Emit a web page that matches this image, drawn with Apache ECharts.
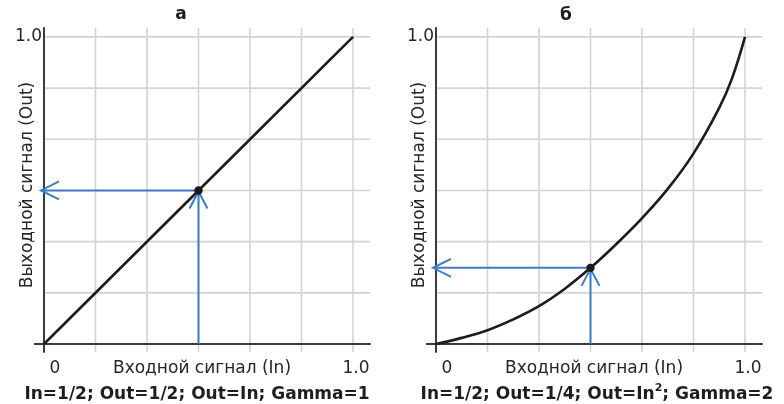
<!DOCTYPE html>
<html><head><meta charset="utf-8">
<script src="https://cdn.jsdelivr.net/npm/echarts@6/dist/echarts.min.js"></script>
<style>html,body{margin:0;padding:0;background:#fff}#c{width:784px;height:404px}</style>
</head><body><div id="c"></div>
<script>
// ---- data ----
const panelTitles = ['а', 'б'];
const captionParts = [
  ['In=1/2; Out=1/2; Out=In; Gamma=1', '', ''],
  ['In=1/2; Out=1/4; Out=In', '2', '; Gamma=2']
];
const xAxisName = 'Входной сигнал (In)';
const yAxisName = 'Выходной сигнал (Out)';
const gridTicks = [0, 1/6, 2/6, 3/6, 4/6, 5/6, 1];
const xTickValues = [0, 1];
const xTickLabels = ['0', '1.0'];
const yTickValues = [1];
const yTickLabels = ['1.0'];
const linearIn  = [0, 0.5, 1];
const linearOut = [0, 0.5, 1];
const gammaIn  = [0, 0.083, 0.167, 0.25, 0.333, 0.417, 0.5, 0.583, 0.667, 0.75, 0.833, 0.917, 0.958, 1.0];
const gammaOut = [0, 0.02, 0.045, 0.08, 0.123, 0.18, 0.248, 0.325, 0.41, 0.505, 0.62, 0.77, 0.865, 1.0];
const markerA = [0.5, 0.5];
const markerB = [0.5, 0.248];

// ---- layout / style ----
const X_MIN = 0, X_MAX = 1.055, Y_MIN = -0.026, Y_MAX = 1.029;
const FONT = 'DejaVu Sans';
const AXIS_COLOR = '#3a3a3a';
const GRID_COLOR = '#d3d3d3';
const BLUE = '#3f7cc4';
const TEXT_COLOR = '#262626';
const grids = [
  {left: 44, top: 28, width: 326, height: 324, containLabel: false, outerBoundsMode: 'none'},
  {left: 436, top: 28, width: 326, height: 324, containLabel: false, outerBoundsMode: 'none'}
];

const chart = echarts.init(document.getElementById('c'), null, {renderer: 'canvas'});

function xLabel(v) {
  const i = xTickValues.findIndex(t => Math.abs(t - v) < 1e-9);
  if (i < 0) return '';
  return (i === 0 ? '{z|' : '{o|') + xTickLabels[i] + '}';
}
function yLabel(v) {
  const i = yTickValues.findIndex(t => Math.abs(t - v) < 1e-9);
  return i < 0 ? '' : yTickLabels[i];
}

function renderGrid(params, api) {
  const v = api.value(0);
  const t = api.coord([v, Y_MAX]), b = api.coord([v, Y_MIN]);
  const l = api.coord([X_MIN, v]), r = api.coord([X_MAX, v]);
  const st = {stroke: GRID_COLOR, lineWidth: 1.6};
  return {type: 'group', children: [
    {type: 'line', shape: {x1: t[0], y1: t[1], x2: b[0], y2: b[1]}, style: st},
    {type: 'line', shape: {x1: l[0], y1: l[1], x2: r[0], y2: r[1]}, style: st}
  ]};
}

function renderArrows(params, api) {
  const x = api.value(0), y = api.value(1);
  const p = api.coord([x, y]);
  const base = api.coord([x, 0]);
  const tip = api.coord([0, y]);
  const st = {stroke: BLUE, lineWidth: 2, fill: null};
  return {type: 'group', children: [
    {type: 'line', shape: {x1: base[0], y1: base[1], x2: p[0], y2: p[1] + 1}, style: st},
    {type: 'polyline', shape: {points: [[p[0] - 9, p[1] + 18], [p[0], p[1] + 1], [p[0] + 9, p[1] + 18]]}, style: st},
    {type: 'line', shape: {x1: p[0], y1: p[1], x2: tip[0] - 3, y2: p[1]}, style: st},
    {type: 'polyline', shape: {points: [[tip[0] + 15, p[1] - 9], [tip[0] - 3, p[1]], [tip[0] + 15, p[1] + 9]]}, style: st},
    {type: 'circle', shape: {cx: p[0], cy: p[1], r: 4.2}, style: {fill: '#1a1a1a'}, z2: 10}
  ]};
}

const xAxes = [], yAxes = [], series = [];
const curves = [[linearIn, linearOut, 0], [gammaIn, gammaOut, 0.4]];
const markers = [markerA, markerB];
grids.forEach((g, i) => {
  xAxes.push({
    type: 'value', gridIndex: i, min: X_MIN, max: X_MAX, z: 3,
    axisLine: {onZero: true, lineStyle: {color: AXIS_COLOR, width: 2}},
    axisTick: {show: false},
    splitLine: {show: false},
    axisLabel: {
      customValues: xTickValues, formatter: xLabel, margin: 8,
      fontFamily: FONT, fontSize: 17, color: TEXT_COLOR,
      rich: {
        z: {fontFamily: FONT, fontSize: 17, color: TEXT_COLOR, padding: [0, 0, 0, 22]},
        o: {fontFamily: FONT, fontSize: 17, color: TEXT_COLOR, padding: [0, 0, 0, 6]}
      }
    },
    name: xAxisName, nameLocation: 'middle', nameGap: 8, nameMoveOverlap: false,
    nameTextStyle: {fontFamily: FONT, fontSize: 17, color: TEXT_COLOR, padding: [0, 10, 0, 0]}
  });
  yAxes.push({
    type: 'value', gridIndex: i, min: Y_MIN, max: Y_MAX, z: 3,
    axisLine: {onZero: true, lineStyle: {color: AXIS_COLOR, width: 2}},
    axisTick: {show: true, customValues: [0], length: 10, lineStyle: {color: AXIS_COLOR, width: 2}},
    splitLine: {show: false},
    axisLabel: {customValues: yTickValues, formatter: yLabel, margin: 2,
      fontFamily: FONT, fontSize: 17, color: TEXT_COLOR},
    name: yAxisName, nameLocation: 'middle', nameGap: 8, nameRotate: 90, nameMoveOverlap: false,
    nameTextStyle: {fontFamily: FONT, fontSize: 17, color: TEXT_COLOR, padding: [0, 0, 0, 10]}
  });
  series.push({
    type: 'custom', xAxisIndex: i, yAxisIndex: i, z: 1, silent: true,
    renderItem: renderGrid, data: gridTicks.map(v => [v, v]), animation: false
  });
  const c = curves[i];
  series.push({
    type: 'line', xAxisIndex: i, yAxisIndex: i, z: 4, smooth: c[2], showSymbol: false,
    lineStyle: {color: '#1c1c1c', width: 2.6}, animation: false,
    data: c[0].map((x, k) => [x, c[1][k]])
  });
  series.push({
    type: 'custom', xAxisIndex: i, yAxisIndex: i, z: 6, silent: true,
    renderItem: renderArrows, data: [markers[i]], animation: false
  });
});

const titleCenters = [[181, 15], [566, 16]];
const captionCenters = [[197, 392], [597, 392]];
const graphics = [];
panelTitles.forEach((t, i) => {
  graphics.push({type: 'text', x: titleCenters[i][0], y: titleCenters[i][1],
    style: {text: t, font: 'bold 17px "DejaVu Sans"', fill: '#1e1e1e', align: 'center', verticalAlign: 'middle'}});
});
captionParts.forEach((p, i) => {
  let txt = '{b|' + p[0] + '}';
  if (p[1]) txt += '{s|' + p[1] + '}';
  if (p[2]) txt += '{b|' + p[2] + '}';
  graphics.push({type: 'text', x: captionCenters[i][0], y: captionCenters[i][1],
    style: {text: txt, align: 'center', verticalAlign: 'middle', fill: '#1e1e1e',
      rich: {
        b: {font: 'bold 17px "DejaVu Sans"', fill: '#1e1e1e', verticalAlign: 'bottom', lineHeight: 22},
        s: {font: 'bold 11px "DejaVu Sans"', fill: '#1e1e1e', verticalAlign: 'bottom', lineHeight: 22, padding: [0, 0, 9, 0]}
      }}});
});

chart.setOption({
  animation: false,
  backgroundColor: '#ffffff',
  grid: grids,
  xAxis: xAxes,
  yAxis: yAxes,
  series: series,
  graphic: graphics
});
</script></body></html>
